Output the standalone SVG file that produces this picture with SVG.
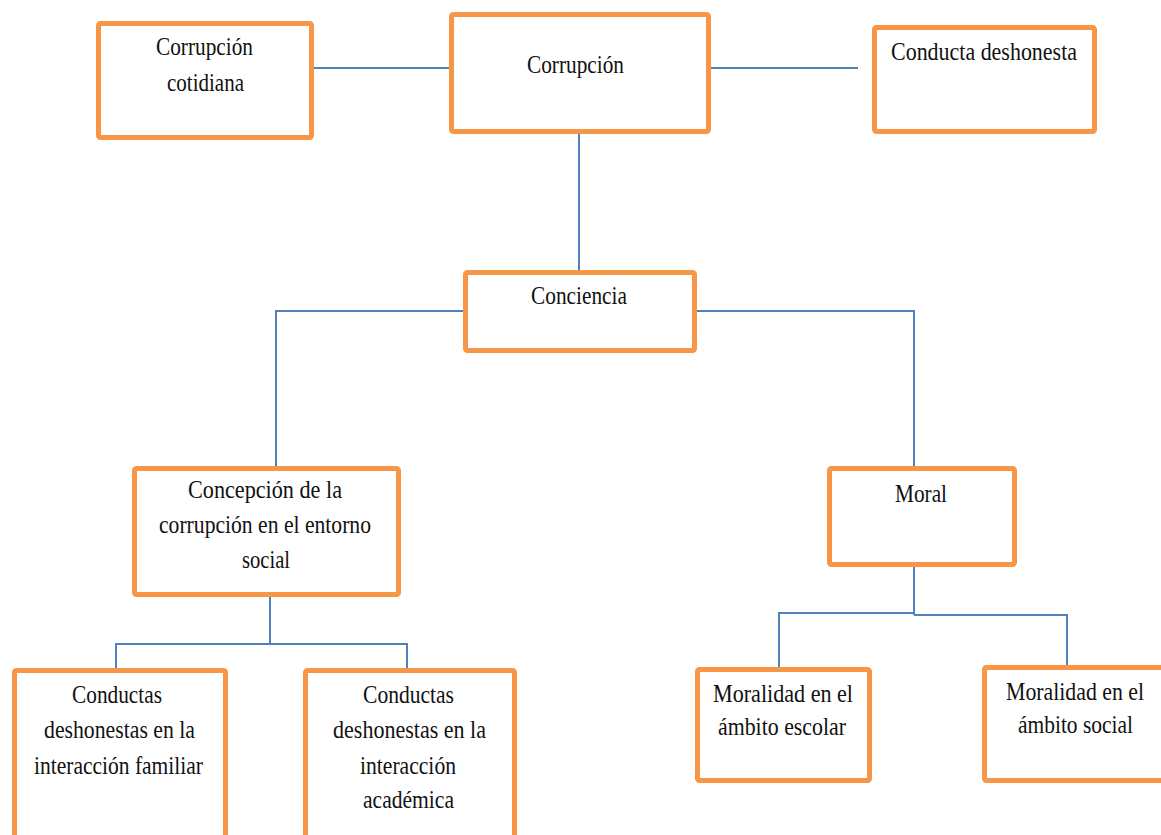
<svg xmlns="http://www.w3.org/2000/svg" width="1161" height="835" viewBox="0 0 1161 835">
<style>
.box{fill:#fff;stroke:#F79646;stroke-width:5;}
.t{font-family:"Liberation Serif","Times New Roman",serif;font-size:25px;fill:#111;}
.c{fill:none;stroke:#4F81BD;stroke-width:2;}
</style>
<rect x="0" y="0" width="1161" height="835" fill="#fff"/>
<g id="connectors">
<path class="c" d="M314 68 H449"/>
<path class="c" d="M711 68 H858"/>
<path class="c" d="M579 134 V270"/>
<path class="c" d="M463 311 H276 V466"/>
<path class="c" d="M697 311 H914 V466"/>
<path class="c" d="M270 597 V644"/>
<path class="c" d="M116 670 V644 H407 V670"/>
<path class="c" d="M914 567 V615"/>
<path class="c" d="M779 668 V613 H914"/>
<path class="c" d="M914 615 H1067 V665"/>
</g>
<g id="corrupcion-cotidiana">
<rect class="box" x="98.5" y="23.5" width="213" height="114" rx="2"/>
<text class="t" x="156" y="55" textLength="97" lengthAdjust="spacingAndGlyphs">Corrupción</text>
<text class="t" x="167" y="91" textLength="77" lengthAdjust="spacingAndGlyphs">cotidiana</text>
</g>
<g id="corrupcion">
<rect class="box" x="451.5" y="14.5" width="257" height="117" rx="2"/>
<text class="t" x="527" y="73" textLength="97" lengthAdjust="spacingAndGlyphs">Corrupción</text>
</g>
<g id="conducta-deshonesta">
<rect class="box" x="874.5" y="27.5" width="220" height="104" rx="2"/>
<text class="t" x="891" y="60" textLength="186" lengthAdjust="spacingAndGlyphs">Conducta deshonesta</text>
</g>
<g id="conciencia">
<rect class="box" x="465.5" y="272.5" width="229" height="78" rx="2"/>
<text class="t" x="531" y="304" textLength="96" lengthAdjust="spacingAndGlyphs">Conciencia</text>
</g>
<g id="concepcion">
<rect class="box" x="134.5" y="468.5" width="264" height="126" rx="2"/>
<text class="t" x="188" y="498" textLength="154" lengthAdjust="spacingAndGlyphs">Concepción de la</text>
<text class="t" x="159" y="533" textLength="212" lengthAdjust="spacingAndGlyphs">corrupción en el entorno</text>
<text class="t" x="242" y="568" textLength="48" lengthAdjust="spacingAndGlyphs">social</text>
</g>
<g id="moral">
<rect class="box" x="829.5" y="468.5" width="185" height="96" rx="2"/>
<text class="t" x="895" y="502" textLength="52" lengthAdjust="spacingAndGlyphs">Moral</text>
</g>
<g id="conductas-familiar">
<rect class="box" x="14.5" y="670.5" width="211" height="200" rx="2"/>
<text class="t" x="72" y="703" textLength="90" lengthAdjust="spacingAndGlyphs">Conductas</text>
<text class="t" x="44" y="738" textLength="151" lengthAdjust="spacingAndGlyphs">deshonestas en la</text>
<text class="t" x="34" y="774" textLength="169" lengthAdjust="spacingAndGlyphs">interacción familiar</text>
</g>
<g id="conductas-academica">
<rect class="box" x="305.5" y="670.5" width="209" height="200" rx="2"/>
<text class="t" x="363" y="703" textLength="91" lengthAdjust="spacingAndGlyphs">Conductas</text>
<text class="t" x="333" y="738" textLength="153" lengthAdjust="spacingAndGlyphs">deshonestas en la</text>
<text class="t" x="360" y="774" textLength="96" lengthAdjust="spacingAndGlyphs">interacción</text>
<text class="t" x="363" y="808" textLength="91" lengthAdjust="spacingAndGlyphs">académica</text>
</g>
<g id="moralidad-escolar">
<rect class="box" x="697.5" y="669.5" width="172" height="111" rx="2"/>
<text class="t" x="713" y="702" textLength="140" lengthAdjust="spacingAndGlyphs">Moralidad en el</text>
<text class="t" x="718" y="735" textLength="128" lengthAdjust="spacingAndGlyphs">ámbito escolar</text>
</g>
<g id="moralidad-social">
<rect class="box" x="984.5" y="667.5" width="200" height="113" rx="2"/>
<text class="t" x="1006" y="700" textLength="138" lengthAdjust="spacingAndGlyphs">Moralidad en el</text>
<text class="t" x="1018" y="733" textLength="115" lengthAdjust="spacingAndGlyphs">ámbito social</text>
</g>
</svg>
